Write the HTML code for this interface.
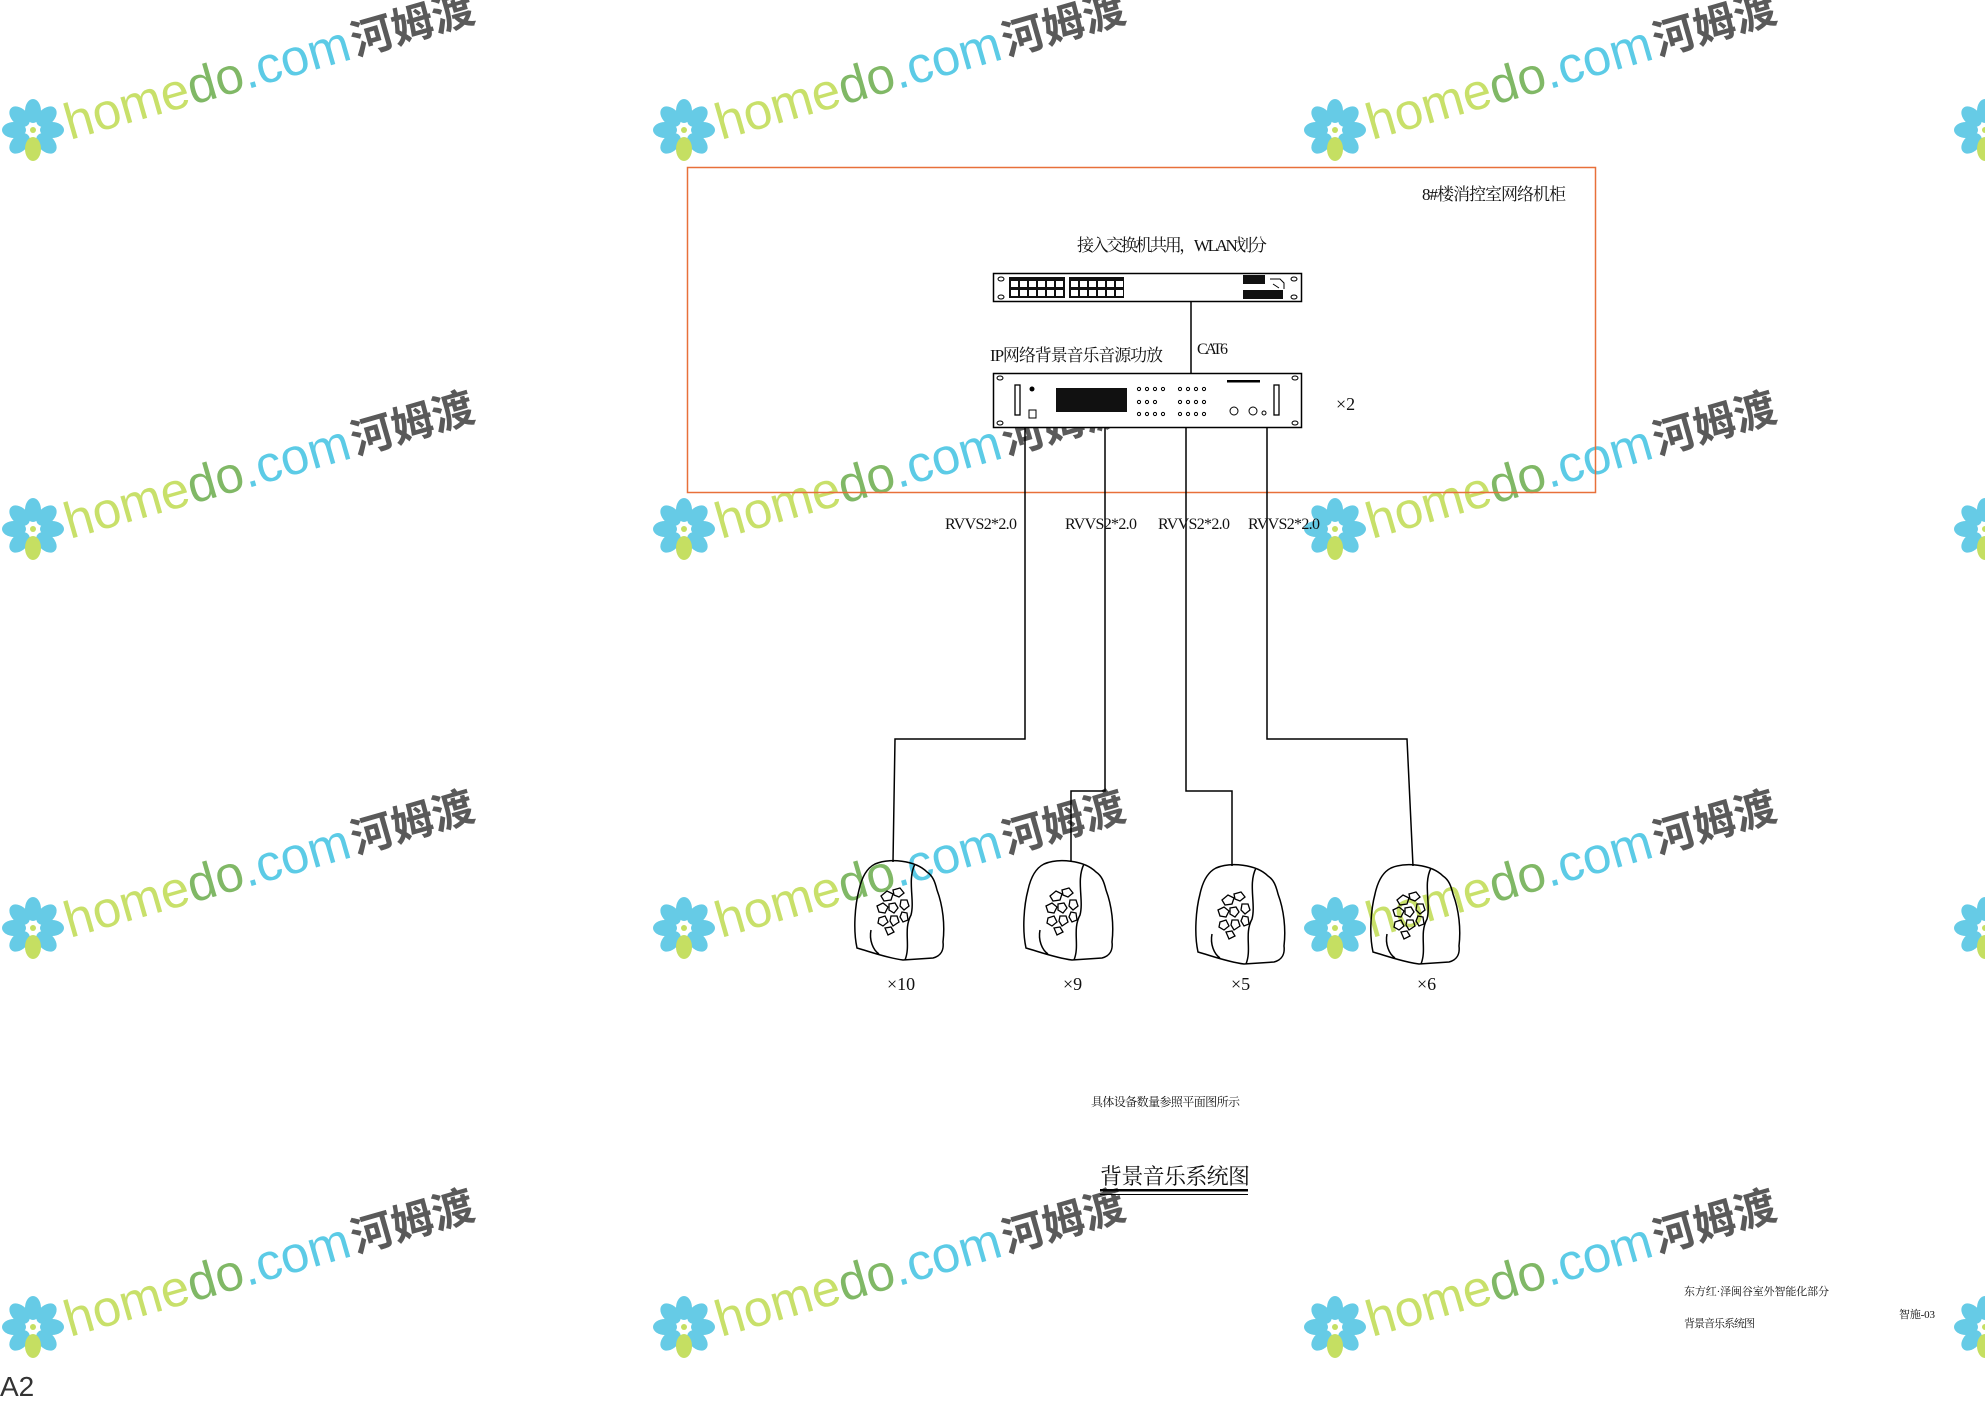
<!DOCTYPE html>
<html><head><meta charset="utf-8"><style>
html,body{margin:0;padding:0;background:#fff;width:1985px;height:1403px;overflow:hidden}
svg{display:block}
.t{font-family:"Liberation Serif","Noto Serif CJK SC",serif;fill:#111}
</style></head><body>
<svg width="1985" height="1403" viewBox="0 0 1985 1403" xmlns="http://www.w3.org/2000/svg">
<defs>
<g id="fl">
  <g fill="#66cbe6">
    <ellipse cx="0" cy="-19" rx="8" ry="12"/>
    <ellipse cx="0" cy="-19" rx="8" ry="12" transform="rotate(45)"/>
    <ellipse cx="0" cy="-19" rx="8" ry="12" transform="rotate(90)"/>
    <ellipse cx="0" cy="-19" rx="8" ry="12" transform="rotate(135)"/>
    <ellipse cx="0" cy="-19" rx="8" ry="12" transform="rotate(-45)"/>
    <ellipse cx="0" cy="-19" rx="8" ry="12" transform="rotate(-90)"/>
    <ellipse cx="0" cy="-19" rx="8" ry="12" transform="rotate(-135)"/>
  </g>
  <ellipse cx="0" cy="19" rx="8" ry="12" fill="#c5df62"/>
  <circle cx="0" cy="0" r="3" fill="#c5df62"/>
</g>
</defs>

<g id="wm">
  <use href="#fl" x="33" y="130"/>
  <g transform="translate(70,140) rotate(-16)">
    <text font-family="Liberation Sans,sans-serif" font-size="51" x="0" y="0"><tspan fill="#c8e06a">home</tspan><tspan fill="#80b866">do</tspan><tspan fill="#5ccbe6">.com</tspan></text>
    <text font-family="Liberation Sans,'Noto Sans CJK SC',sans-serif" font-weight="bold" font-size="42" x="298" y="-2" fill="#5a5a5a">河姆渡</text>
  </g>
</g>
<use href="#wm" x="651" y="0"/><use href="#wm" x="1302" y="0"/><use href="#wm" x="1952" y="0"/>
<use href="#wm" x="0" y="399"/><use href="#wm" x="651" y="399"/><use href="#wm" x="1302" y="399"/><use href="#wm" x="1952" y="399"/>
<use href="#wm" x="0" y="798"/><use href="#wm" x="651" y="798"/><use href="#wm" x="1302" y="798"/><use href="#wm" x="1952" y="798"/>
<use href="#wm" x="0" y="1197"/><use href="#wm" x="651" y="1197"/><use href="#wm" x="1302" y="1197"/><use href="#wm" x="1952" y="1197"/>

<rect x="687.5" y="167.5" width="908" height="325" fill="none" stroke="#e8703a" stroke-width="1.5"/>
<text class="t" x="1422" y="200" font-size="17" textLength="144">8#楼消控室网络机柜</text>

<text class="t" x="1077" y="251" font-size="17" textLength="190">接入交换机共用，WLAN划分</text>
<rect x="993.5" y="273.5" width="308" height="28" fill="#fff" stroke="#000" stroke-width="1.5"/>
<ellipse cx="1001" cy="279" rx="3" ry="2" fill="none" stroke="#000"/>
<ellipse cx="1001" cy="297" rx="3" ry="2" fill="none" stroke="#000"/>
<ellipse cx="1294" cy="279" rx="3" ry="2" fill="none" stroke="#000"/>
<ellipse cx="1294" cy="297" rx="3" ry="2" fill="none" stroke="#000"/>
<rect x="1009" y="277" width="56" height="21" fill="#111"/>
<rect x="1069" y="277" width="55" height="21" fill="#111"/>
<g fill="#fff">
<rect x="1011" y="281" width="7" height="6"/><rect x="1020" y="281" width="7" height="6"/><rect x="1029" y="281" width="7" height="6"/><rect x="1038" y="281" width="7" height="6"/><rect x="1047" y="281" width="7" height="6"/><rect x="1056" y="281" width="7" height="6"/>
<rect x="1011" y="290" width="7" height="6"/><rect x="1020" y="290" width="7" height="6"/><rect x="1029" y="290" width="7" height="6"/><rect x="1038" y="290" width="7" height="6"/><rect x="1047" y="290" width="7" height="6"/><rect x="1056" y="290" width="7" height="6"/>
<rect x="1071" y="281" width="7" height="6"/><rect x="1080" y="281" width="7" height="6"/><rect x="1089" y="281" width="7" height="6"/><rect x="1098" y="281" width="7" height="6"/><rect x="1107" y="281" width="7" height="6"/><rect x="1116" y="281" width="7" height="6"/>
<rect x="1071" y="290" width="7" height="6"/><rect x="1080" y="290" width="7" height="6"/><rect x="1089" y="290" width="7" height="6"/><rect x="1098" y="290" width="7" height="6"/><rect x="1107" y="290" width="7" height="6"/><rect x="1116" y="290" width="7" height="6"/>
</g>
<rect x="1243" y="275" width="22" height="9" fill="#111"/>
<rect x="1243" y="290" width="40" height="9" fill="#111"/>
<path d="M1270 279 l10 0 l4 4 l0 6 M1273 284 l6 4" stroke="#000" fill="none"/>
<line x1="1191" y1="302" x2="1191" y2="373" stroke="#000" stroke-width="1.5"/>
<text class="t" x="1197" y="354" font-size="16" textLength="31">CAT6</text>

<text class="t" x="990" y="361" font-size="17" textLength="173">IP网络背景音乐音源功放</text>
<rect x="993.5" y="373.5" width="308" height="54" fill="#fff" stroke="#000" stroke-width="1.5"/>
<ellipse cx="1000" cy="378" rx="3" ry="2" fill="none" stroke="#000"/>
<ellipse cx="1000" cy="423" rx="3" ry="2" fill="none" stroke="#000"/>
<ellipse cx="1295" cy="378" rx="3" ry="2" fill="none" stroke="#000"/>
<ellipse cx="1295" cy="423" rx="3" ry="2" fill="none" stroke="#000"/>
<rect x="1015" y="385" width="5" height="30" fill="none" stroke="#000" stroke-width="1.3"/>
<rect x="1274" y="385" width="5" height="30" fill="none" stroke="#000" stroke-width="1.3"/>
<circle cx="1032" cy="389" r="2.5" fill="#000"/>
<rect x="1029" y="410" width="7" height="8" fill="none" stroke="#000"/>
<rect x="1056" y="388" width="71" height="24" fill="#111"/>
<g fill="none" stroke="#000" stroke-width="1">
<circle cx="1139" cy="389" r="1.6"/><circle cx="1147" cy="389" r="1.6"/><circle cx="1155" cy="389" r="1.6"/><circle cx="1163" cy="389" r="1.6"/><circle cx="1180" cy="389" r="1.6"/><circle cx="1188" cy="389" r="1.6"/><circle cx="1196" cy="389" r="1.6"/><circle cx="1204" cy="389" r="1.6"/>
<circle cx="1139" cy="402" r="1.6"/><circle cx="1147" cy="402" r="1.6"/><circle cx="1155" cy="402" r="1.6"/><circle cx="1180" cy="402" r="1.6"/><circle cx="1188" cy="402" r="1.6"/><circle cx="1196" cy="402" r="1.6"/><circle cx="1204" cy="402" r="1.6"/>
<circle cx="1139" cy="414" r="1.6"/><circle cx="1147" cy="414" r="1.6"/><circle cx="1155" cy="414" r="1.6"/><circle cx="1163" cy="414" r="1.6"/><circle cx="1180" cy="414" r="1.6"/><circle cx="1188" cy="414" r="1.6"/><circle cx="1196" cy="414" r="1.6"/><circle cx="1204" cy="414" r="1.6"/>
<circle cx="1234" cy="411" r="4"/><circle cx="1253" cy="411" r="4"/><circle cx="1264" cy="413" r="2"/>
</g>
<g fill="#000"><rect x="1227" y="380" width="33" height="2.5"/></g>
<text class="t" x="1336" y="410" font-size="18">×2</text>

<g fill="none" stroke="#000" stroke-width="1.5">
<polyline points="1025,428 1025,739 895,739 893,862"/>
<polyline points="1105,428 1105,791 1071,791 1071,862"/>
<polyline points="1186,428 1186,791 1232,791 1232,866"/>
<polyline points="1267,428 1267,739 1407,739 1413,866"/>
</g>
<g class="t" font-size="16">
<text x="945" y="529" textLength="72">RVVS2*2.0</text>
<text x="1065" y="529" textLength="72">RVVS2*2.0</text>
<text x="1158" y="529" textLength="72">RVVS2*2.0</text>
<text x="1248" y="529" textLength="72">RVVS2*2.0</text>
</g>

<defs>
<g id="spk" fill="none" stroke="#000" stroke-width="1.5">
  <path d="M-24,-46 C-10,-52 16,-50 28,-38 C34,-34 36,-28 38,-20 C44,-4 46,15 44,32 C45,40 42,46 34,48 L4,50 C-12,48 -28,42 -42,38 C-46,20 -44,-5 -40,-20 C-37,-34 -32,-42 -24,-46 Z"/>
  <path d="M16,-46 C8,-30 16,-10 12,5 C4,20 12,35 6,50"/>
  <path d="M-28,20 C-30,30 -26,40 -20,44"/>
  <g stroke-width="1.3">
  <path d="M-18,-14 l6,-5 l6,3 l-2,6 l-7,1 z"/>
  <path d="M-6,-20 l7,-2 l4,5 l-5,4 l-5,-2 z"/>
  <path d="M2,-10 l6,0 l2,6 l-5,4 l-4,-4 z"/>
  <path d="M-22,-4 l6,-3 l5,4 l-3,6 l-6,-1 z"/>
  <path d="M-10,-6 l6,-1 l3,5 l-4,5 l-5,-3 z"/>
  <path d="M-20,8 l6,-2 l3,6 l-5,4 l-5,-3 z"/>
  <path d="M-8,6 l6,0 l2,6 l-6,4 l-3,-5 z"/>
  <path d="M3,2 l5,1 l1,7 l-5,2 l-3,-5 z"/>
  <path d="M-14,18 l6,-1 l3,5 l-6,3 z"/>
  </g>
</g>
</defs>
<use href="#spk" x="899" y="910"/>
<use href="#spk" x="1068" y="910"/>
<use href="#spk" x="1240" y="914"/>
<use href="#spk" x="1415" y="914"/>
<g class="t" font-size="18">
<text x="887" y="990">×10</text>
<text x="1063" y="990">×9</text>
<text x="1231" y="990">×5</text>
<text x="1417" y="990">×6</text>
</g>

<text class="t" x="1091" y="1106" font-size="12" textLength="149">具体设备数量参照平面图所示</text>
<text class="t" x="1100" y="1184" font-size="22" textLength="150">背景音乐系统图</text>
<rect x="1100" y="1189" width="148" height="2.5" fill="#000"/>
<rect x="1100" y="1194" width="148" height="1" fill="#000"/>

<text class="t" x="1684" y="1295" font-size="11" textLength="145">东方红·泽闽谷室外智能化部分</text>
<text class="t" x="1684" y="1327" font-size="11" textLength="71">背景音乐系统图</text>
<text class="t" x="1899" y="1318" font-size="11" textLength="36">智施-03</text>

<text x="0" y="1396" font-family="Liberation Sans,sans-serif" font-size="28" fill="#333">A2</text>
</svg>
</body></html>
